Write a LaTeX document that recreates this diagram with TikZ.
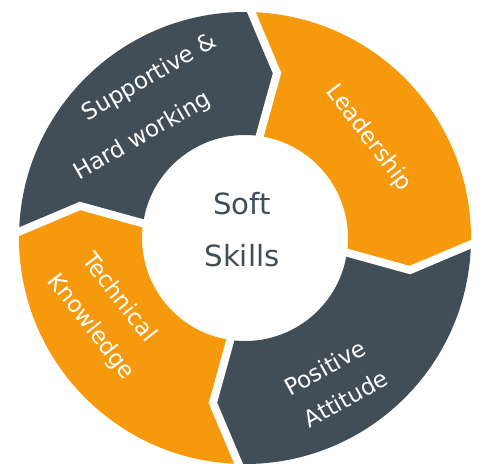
\documentclass[tikz,border=0pt]{standalone}
\usepackage{fontspec}
\setmainfont{DejaVu Sans}
\definecolor{cinza}{HTML}{414E57}
\definecolor{laranja}{HTML}{F7990C}

\begin{document}
\begin{tikzpicture}[x=0.5pt,y=0.5pt,
    rotulo/.style={text=white, anchor=base, inner sep=0pt, font=\fontsize{11.5}{14}\selectfont},
    centro/.style={text=cinza, align=center, font=\fontsize{14.6}{26}\selectfont}]
    % Fundo
    \fill[white] (-245,-225) rectangle (238,238);
    \useasboundingbox (-245,-225) rectangle (238,238);
    % Segmentos
    \foreach \b/\cor in {88/cinza, -2/laranja, -92/cinza, -182/laranja}
        \fill[\cor] (\b+90:226) arc[start angle=\b+90, end angle=\b, radius=226]
            -- (\b-9:168) -- (\b-6:103) arc[start angle=\b-6, end angle=\b+84, radius=103]
            -- (\b+81:168) -- cycle;
    % Vaos entre segmentos
    \foreach \b in {88, -2, -92, -182}
        \draw[white, line width=4pt, line join=miter] (\b+1.5:236) -- (\b-9:168) -- (\b-5.8:98);
    % Textos
    \node[rotulo, rotate=30] (apoio) at (-92,154.5) {Supportive \&};
    \node[rotulo, rotate=30] (trabalho) at (-99,96) {Hard working};
    \node[rotulo, rotate=-53] (lider) at (118.6,96.2) {Leadership};
    \node[rotulo, rotate=29] (positiva) at (84,-137) {Positive};
    \node[rotulo, rotate=29] (atitude) at (105,-168) {Attitude};
    \node[rotulo, rotate=-52] (tecnico) at (-131.3,-63.9) {Technical};
    \node[rotulo, rotate=-52] (saber) at (-159.3,-92.9) {Knowledge};
    \node[centro] (soft) at (-3,8.5) {Soft\\Skills};
\end{tikzpicture}
\end{document}
